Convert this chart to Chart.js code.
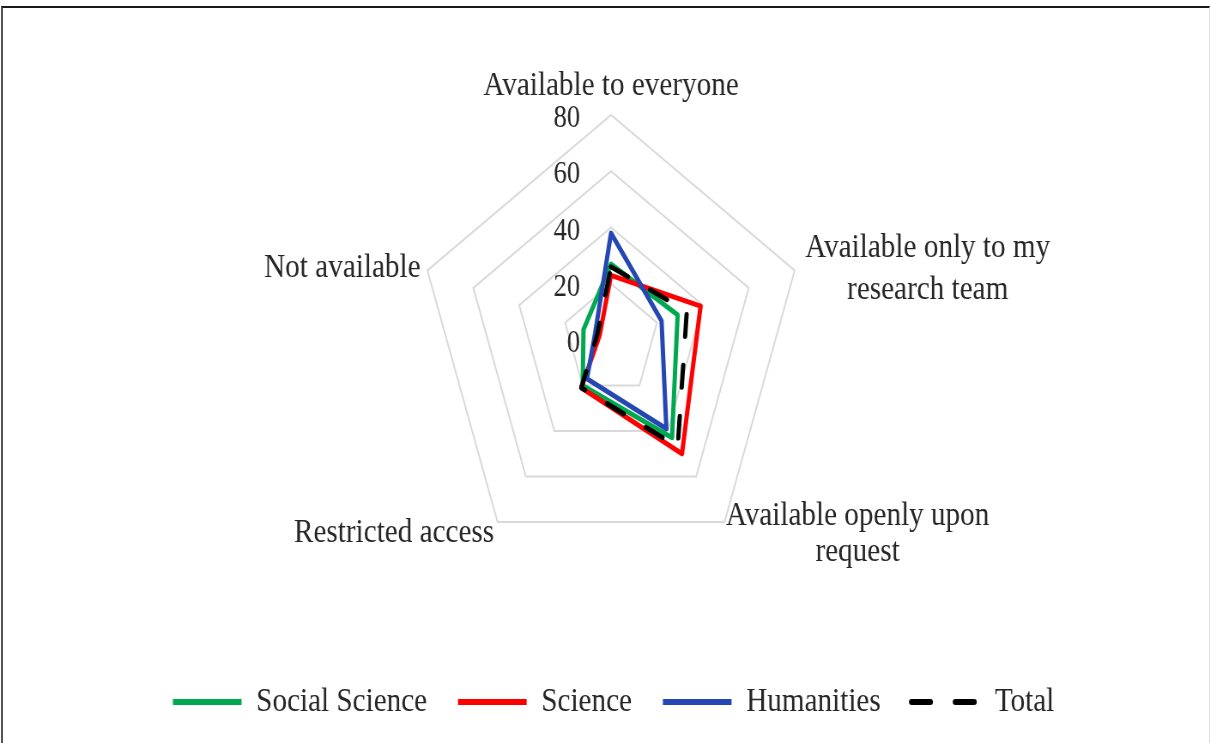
<!DOCTYPE html>
<html>
<head>
<meta charset="utf-8">
<script src="https://cdn.jsdelivr.net/npm/chart.js@4.4.1/dist/chart.umd.min.js"></script>
<style>
  html, body { margin: 0; padding: 0; background: #fff; overflow: hidden; }
  body { width: 1210px; height: 743px; position: relative; }
  #frame { position: absolute; left: 1px; top: 6px; right: 0; bottom: -5px;
    border-top: 2px solid #1a1a1a; border-left: 2px solid #555; border-right: 1px solid #ddd; }
  /* the source picture is squeezed horizontally, so the canvas is too */
  #wrap { position: absolute; left: 0; top: 0; width: 1410px; height: 743px;
    transform: scaleX(0.8582); transform-origin: 0 0; }
</style>
</head>
<body>
<div id="frame"></div>
<div id="wrap"><canvas id="radar"></canvas></div>
<script>
// axes, clockwise from the top
const categories = [
  ["Available to everyone"],
  ["Available only to my", "research team"],
  ["Available openly upon", "request"],
  ["Restricted access"],
  ["Not available"],
];
const socialScience = [27, 29, 43, 20, 12];
const science = [23, 39, 50, 21, 5];
const humanities = [38, 22, 39, 17, 7];
const total = [26, 33, 47, 21, 6];
const tickValues = [0, 20, 40, 60, 80];

const FONT = "'Liberation Serif', 'Times New Roman', serif";
const TEXT = "#262626";
const CX = 712, CY = 340, RADIUS = 225;

// where each axis title sits relative to its outer vertex
const labelPlace = [
  { dx: 0, dy: -29, align: "center", gap: 0 },
  { dx: 155, dy: -22, align: "center", gap: 42 },
  { dx: 155, dy: -6, align: "center", gap: 36 },
  { dx: -4, dy: 11, align: "right", gap: 0 },
  { dx: -8, dy: -2, align: "right", gap: 0 },
];

const axisText = {
  id: "axisText",
  beforeDatasetsDraw(chart) {
    const r = chart.scales.r;
    const c = chart.ctx;
    c.save();
    c.fillStyle = TEXT;
    c.textBaseline = "middle";
    // value labels left of the top axis
    c.font = "31px " + FONT;
    c.textAlign = "right";
    r.ticks.forEach((t) => {
      const d = r.getDistanceFromCenterForValue(t.value);
      c.fillText(t.label, r.xCenter - 36, r.yCenter - d + 4);
    });
    // axis titles
    c.font = "34px " + FONT;
    chart.data.labels.forEach((lines, i) => {
      const p = r.getPointPosition(i, r.drawingArea);
      const pl = labelPlace[i];
      c.textAlign = pl.align;
      lines.forEach((ln, k) => {
        c.fillText(ln, p.x + pl.dx, p.y + pl.dy + k * pl.gap);
      });
    });
    c.restore();
  },
};

const ctx = document.getElementById("radar");

new Chart(ctx, {
  type: "radar",
  data: {
    labels: categories,
    datasets: [
      { label: "Social Science", data: socialScience, borderColor: "#00a84f", backgroundColor: "#00a84f", order: 3 },
      { label: "Science", data: science, borderColor: "#ff0000", backgroundColor: "#ff0000", order: 2 },
      { label: "Humanities", data: humanities, borderColor: "#2447b3", backgroundColor: "#2447b3", order: 1 },
      { label: "Total", data: total, borderColor: "#000000", backgroundColor: "#000000",
        borderDash: [22, 29], borderCapStyle: "round", order: 0 },
    ],
  },
  options: {
    responsive: true,
    maintainAspectRatio: false,
    animation: false,
    layout: { padding: { left: 20, right: 0, top: 0, bottom: 14 } },
    elements: {
      line: { tension: 0, borderWidth: 5, borderJoinStyle: "round", fill: false },
      point: { radius: 0, hitRadius: 0, hoverRadius: 0 },
    },
    scales: {
      r: {
        min: 0,
        max: 80,
        afterBuildTicks: (s) => { s.ticks = tickValues.map((v) => ({ value: v })); },
        ticks: { stepSize: 20, display: false },
        grid: { color: "#d9d9d9", lineWidth: 2 },
        angleLines: { display: false },
        pointLabels: { display: false },
        afterFit: (s) => { s.xCenter = CX; s.yCenter = CY; s.drawingArea = RADIUS; },
      },
    },
    plugins: {
      tooltip: { enabled: false },
      legend: {
        position: "bottom",
        labels: {
          usePointStyle: true,
          pointStyle: "line",
          pointStyleWidth: 80,
          padding: 36,
          color: TEXT,
          font: { family: FONT, size: 34 },
          sort: (a, b) => a.datasetIndex - b.datasetIndex,
          generateLabels: (chart) => {
            const items = Chart.defaults.plugins.legend.labels.generateLabels(chart);
            items.forEach((it) => {
              const ds = chart.data.datasets[it.datasetIndex];
              it.lineWidth = 6;
              it.strokeStyle = ds.borderColor;
              it.lineDash = ds.borderDash || [];
              it.lineCap = ds.borderDash ? "round" : "butt";
            });
            return items;
          },
        },
      },
    },
  },
  plugins: [axisText],
});
</script>
</body>
</html>
